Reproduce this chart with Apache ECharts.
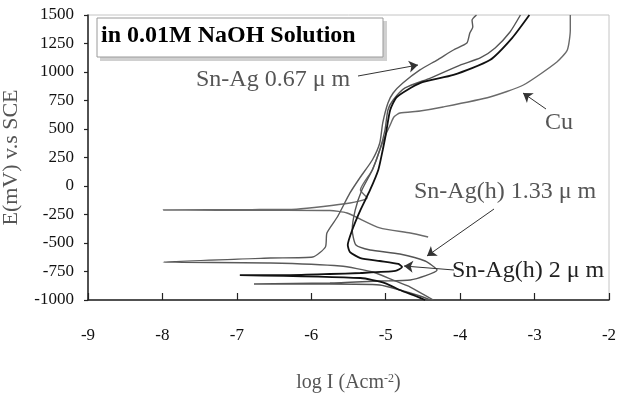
<!DOCTYPE html>
<html>
<head>
<meta charset="utf-8">
<script src="https://cdn.jsdelivr.net/npm/echarts@6/dist/echarts.min.js"></script>
<style>
html,body{margin:0;padding:0;background:#fff;}
#chart{width:620px;height:396px;}
</style>
</head>
<body>
<div id="chart"></div>
<script>
// log I (x) and E in mV (y)
var cuLogI = [-4.43,-4.67,-5.08,-5.52,-5.75,-6.5,-7.99,-6.8,-6.2,-5.48,-5.25,-5.34,-5.18,-5.08,-4.99,-4.94,-4.89,-4.81,-4.54,-4.23,-3.60,-3.15,-2.70,-2.56,-2.52,-2.52];
var cuE    = [-447,-412,-368,-237,-215,-213,-210,-207,-203,-149,-105,-35,140,316,465,535,605,640,658,693,781,886,1088,1193,1368,1500];

var sa067LogI = [-4.36,-4.67,-4.90,-5.17,-5.61,-6.55,-7.99,-6.55,-5.98,-5.81,-5.79,-5.65,-5.48,-5.34,-5.18,-5.08,-5.04,-4.97,-4.90,-4.77,-4.54,-4.31,-4.09,-3.91,-3.87,-3.83,-3.84,-3.78];
var sa067E    = [-1000,-886,-825,-754,-702,-675,-667,-632,-623,-535,-412,-272,-61,79,228,377,553,728,816,903,1018,1105,1193,1254,1342,1395,1456,1500];

var sa133LogI = [-4.40,-4.54,-4.81,-5.08,-5.75,-6.77,-5.75,-5.08,-4.67,-4.31,-4.47,-4.81,-5.21,-5.40,-5.45,-5.41,-5.32,-5.18,-5.08,-5.01,-4.97,-4.90,-4.74,-4.40,-4.00,-3.73,-3.53,-3.33,-3.19];
var sa133E    = [-1000,-965,-912,-868,-860,-860,-851,-833,-825,-737,-658,-596,-561,-518,-386,-211,-35,140,316,491,667,754,860,947,1061,1123,1211,1351,1500];

var sa2LogI = [-4.47,-4.60,-4.81,-5.01,-5.34,-6.96,-6.29,-5.75,-5.34,-4.87,-4.78,-4.83,-5.08,-5.34,-5.48,-5.51,-5.45,-5.34,-5.21,-5.10,-5.04,-5.00,-4.94,-4.85,-4.54,-4.09,-3.60,-3.30,-3.07];
var sa2E    = [-1000,-965,-912,-851,-807,-781,-781,-772,-763,-745,-711,-684,-658,-632,-579,-518,-386,-211,-35,140,316,447,667,781,903,974,1105,1300,1500];

var xTicks = [-9,-8,-7,-6,-5,-4,-3,-2];
var yTicks = [-1000,-750,-500,-250,0,250,500,750,1000,1250,1500];

function pairs(xs, ys){
	var out = [];
	for (var i = 0; i < xs.length; i++) {
		out.push([xs[i], ys[i]]);
	}
	return out;
}

var serif = "'Liberation Serif','Times New Roman',serif";
var chart = echarts.init(document.getElementById('chart'));

function curve(name, xs, ys, color, width, extra){
	var s = {
		name: name,
		type: 'line',
		data: pairs(xs, ys),
		showSymbol: false,
		symbol: 'none',
		smooth: 0.2,
		lineStyle: {color: color, width: width},
		z: 3
	};
	if (extra) s.markLine = extra;
	return s;
}

// arrows for the hand-placed labels
var arrows = {
	silent: true,
	symbol: ['none','arrow'],
	symbolSize: 9,
	label: {show: false},
	lineStyle: {color: '#333', width: 1, type: 'solid'},
	data: [
		[{x: 358, y: 76}, {x: 418, y: 65}],
		[{x: 546, y: 109}, {x: 523, y: 93}],
		[{x: 494, y: 209}, {x: 427, y: 256}],
		[{x: 454, y: 270}, {x: 404, y: 266}]
	]
};

var option = {
	animation: false,
	backgroundColor: '#fff',
	grid: {
		left: 88, right: 11, top: 15, bottom: 96,
		outerBoundsMode: 'none',
		containLabel: false,
		show: true, borderColor: '#c4c4c4', borderWidth: 1
	},
	xAxis: {
		type: 'value',
		min: -9, max: -2, interval: 1,
		name: 'log I (Acm{s|-2})',
		nameLocation: 'middle',
		nameGap: 73,
		nameTextStyle: {
			fontFamily: serif, fontSize: 20, color: '#555',
			rich: {s: {fontFamily: serif, fontSize: 12, color: '#555', verticalAlign: 'top', padding: [0,0,8,0]}}
		},
		axisLine: {show: true, onZero: false, lineStyle: {color: '#222', width: 1.5}},
		axisTick: {show: true, inside: true, length: 7, lineStyle: {color: '#222', width: 1.2}},
		axisLabel: {fontFamily: serif, fontSize: 17, color: '#111', margin: 27,
			formatter: function(v){ return xTicks.indexOf(v) >= 0 ? String(v) : ''; }},
		splitLine: {show: false}
	},
	yAxis: {
		type: 'value',
		min: -1000, max: 1500, interval: 250,
		name: 'E(mV) v.s SCE',
		nameLocation: 'middle',
		nameGap: 66,
		nameTextStyle: {fontFamily: serif, fontSize: 22, color: '#555'},
		axisLine: {show: true, onZero: false, lineStyle: {color: '#222', width: 1.5}},
		axisTick: {show: true, inside: false, length: 4, lineStyle: {color: '#222', width: 1.2}},
		axisLabel: {fontFamily: serif, fontSize: 17, color: '#111', margin: 14,
			formatter: function(v){ return yTicks.indexOf(v) >= 0 ? String(v) : ''; }},
		splitLine: {show: false}
	},
	series: [
		curve('Cu', cuLogI, cuE, '#6a6a6a', 1.4),
		curve('Sn-Ag 0.67', sa067LogI, sa067E, '#5a5a5a', 1.4),
		curve('Sn-Ag(h) 1.33', sa133LogI, sa133E, '#555', 1.4),
		curve('Sn-Ag(h) 2', sa2LogI, sa2E, '#111', 1.8, arrows)
	],
	graphic: [
		{type: 'rect', shape: {x: 100, y: 21, width: 287, height: 40}, style: {fill: '#d0d0d0'}, z: 10},
		{type: 'rect', shape: {x: 97, y: 18, width: 286, height: 39}, style: {fill: '#fff', stroke: '#9a9a9a', lineWidth: 1}, z: 11},
		{type: 'text', left: 101, top: 24, z: 12,
			style: {text: 'in 0.01M NaOH Solution', fontFamily: serif, fontSize: 24, fontWeight: 'bold', fill: '#000'}},
		{type: 'text', left: 196, top: 68, z: 12,
			style: {text: 'Sn-Ag 0.67 μ m', fontFamily: serif, fontSize: 24, fill: '#555'}},
		{type: 'text', left: 545, top: 111, z: 12,
			style: {text: 'Cu', fontFamily: serif, fontSize: 24, fill: '#555'}},
		{type: 'text', left: 414, top: 180, z: 12,
			style: {text: 'Sn-Ag(h) 1.33 μ m', fontFamily: serif, fontSize: 24, fill: '#555'}},
		{type: 'text', left: 452, top: 259, z: 12,
			style: {text: 'Sn-Ag(h) 2 μ m', fontFamily: serif, fontSize: 24, fill: '#222'}}
	]
};
chart.setOption(option);
</script>
</body>
</html>
